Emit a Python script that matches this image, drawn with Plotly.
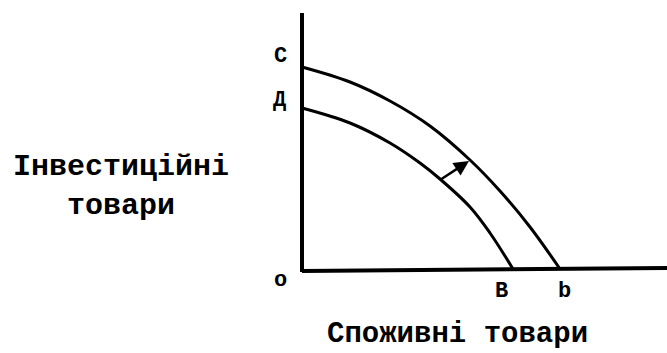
import plotly.graph_objects as go

# Outer frontier (C -> b) and inner frontier (Д -> B), arbitrary units
outer_x = [0, 48, 88, 128, 168, 198, 228, 258]
outer_y = [202, 187, 168, 143, 109, 78, 42, 0]
inner_x = [0, 48, 88, 118, 138, 168, 188, 211]
inner_y = [161, 146, 126, 106, 90, 62, 36, 0]

# Arrow between frontiers
arrow_from = (138, 89)
arrow_to = (167, 108)

point_labels = ["С", "Д", "о", "В", "b"]
point_pos = [(-22, 213), (-23, 169), (-22, -11), (199, -22), (262, -22)]

y_title = "Інвестиційні<br>товари"
x_title = "Споживні товари"

FONT = "Liberation Mono"

fig = go.Figure()
fig.add_trace(go.Scatter(x=outer_x, y=outer_y, mode="lines",
                         line=dict(color="black", width=3, shape="spline"),
                         showlegend=False, hoverinfo="skip"))
fig.add_trace(go.Scatter(x=inner_x, y=inner_y, mode="lines",
                         line=dict(color="black", width=3, shape="spline"),
                         showlegend=False, hoverinfo="skip"))

# axes lines
fig.add_shape(type="line", x0=0, y0=-3, x1=0, y1=256,
              line=dict(color="black", width=4))
fig.add_shape(type="line", x0=0, y0=-2, x1=365, y1=1,
              line=dict(color="black", width=4))

fig.add_annotation(x=arrow_to[0], y=arrow_to[1], ax=arrow_from[0], ay=arrow_from[1],
                   xref="x", yref="y", axref="x", ayref="y", text="",
                   showarrow=True, arrowhead=2, arrowsize=1.2, arrowwidth=2.5,
                   arrowcolor="black")

for lab, (px, py) in zip(point_labels, point_pos):
    fig.add_annotation(x=px, y=py, xref="x", yref="y", text=lab, showarrow=False,
                       font=dict(family=FONT, size=22, color="black", weight="bold"))

fig.add_annotation(x=-181, y=83, xref="x", yref="y", text=y_title, showarrow=False,
                   align="center",
                   font=dict(family=FONT, size=30, color="black", weight="bold"))
fig.add_annotation(x=155, y=-65, xref="x", yref="y", text=x_title, showarrow=False,
                   font=dict(family=FONT, size=29, color="black", weight="bold"))

fig.update_layout(
    width=667, height=353,
    margin=dict(l=0, r=0, t=0, b=0),
    paper_bgcolor="white", plot_bgcolor="white",
    xaxis=dict(range=[-302, 365], visible=False, fixedrange=True),
    yaxis=dict(range=[-84, 269], visible=False, fixedrange=True),
)

fig.write_html("out.html", config={"displayModeBar": False},
               post_script="document.body.style.margin='0';")
